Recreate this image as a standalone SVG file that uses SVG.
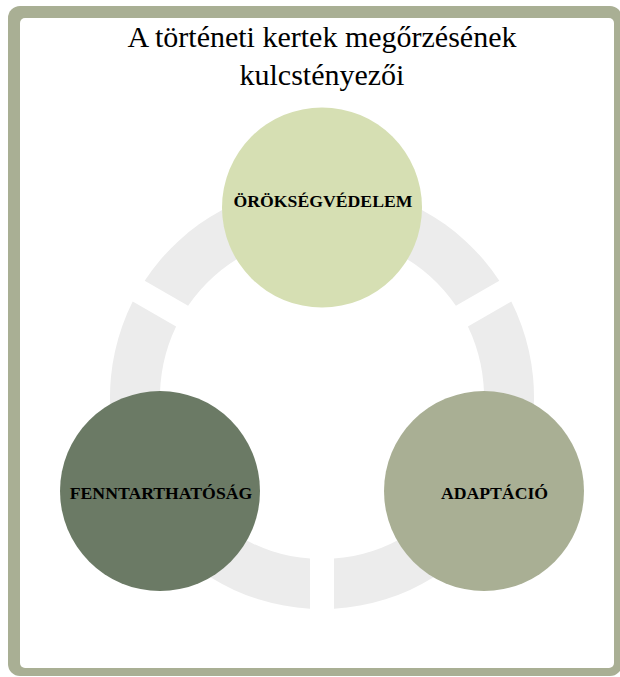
<svg xmlns="http://www.w3.org/2000/svg" width="620" height="677" viewBox="0 0 620 677">
  <style>
    .title { font-family: "Liberation Serif", "Times New Roman", serif; font-size: 30px; fill: #000; text-anchor: middle; }
    .label { font-family: "Liberation Serif", "Times New Roman", serif; font-size: 17.7px; font-weight: bold; fill: #000; text-anchor: middle; }
    .seg { fill: #ececec; stroke: none; }
  </style>
  <rect width="620" height="677" fill="#ffffff"/>
  <g id="frame">
    <rect x="8" y="6" width="614" height="670" rx="12" ry="12" fill="#a9af94"/>
    <rect x="20" y="18" width="594" height="650" rx="5" ry="5" fill="#ffffff"/>
  </g>
  <g id="title">
    <text class="title" x="322" y="47">A történeti kertek megőrzésének</text>
    <text class="title" x="322" y="85">kulcstényezői</text>
  </g>
  <g id="connectors">
    <path class="seg" d="M 499.3 280.8 A 212 212 0 0 0 144.7 280.8 L 188.1 305.8 A 162 162 0 0 1 455.9 305.8 Z"/>
    <path class="seg" d="M 132.7 301.6 A 212 212 0 0 0 310 608.7 L 310 558.6 A 162 162 0 0 1 176.1 326.6 Z"/>
    <path class="seg" d="M 334 608.7 A 212 212 0 0 0 511.3 301.6 L 467.9 326.6 A 162 162 0 0 1 334 558.6 Z"/>
  </g>
  <g id="node-oroksegvedelem">
    <circle cx="322" cy="207.5" r="100" fill="#d6dfb3"/>
    <text class="label" x="323" y="207">ÖRÖKSÉGVÉDELEM</text>
  </g>
  <g id="node-fenntarthatosag">
    <circle cx="160" cy="491" r="100" fill="#6b7a65"/>
    <text class="label" x="161" y="499">FENNTARTHATÓSÁG</text>
  </g>
  <g id="node-adaptacio">
    <circle cx="484" cy="491" r="100" fill="#a9af94"/>
    <text class="label" x="494.5" y="499">ADAPTÁCIÓ</text>
  </g>
</svg>
